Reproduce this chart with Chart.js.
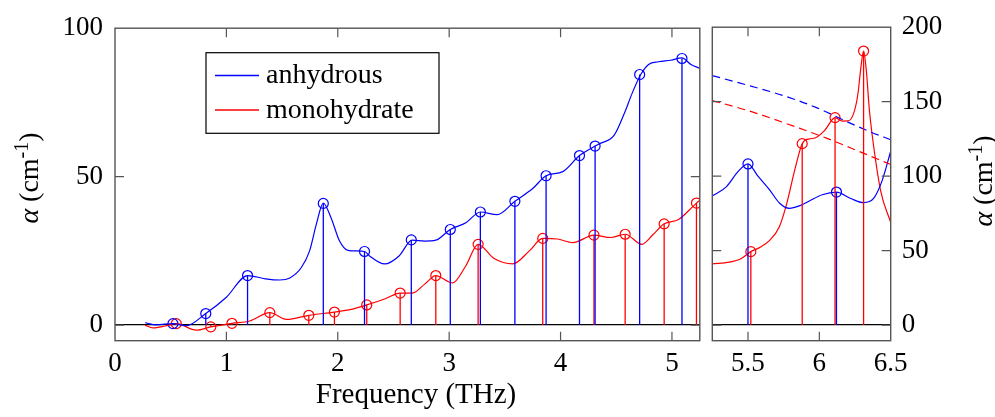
<!DOCTYPE html>
<html><head><meta charset="utf-8">
<script src="https://cdn.jsdelivr.net/npm/chart.js@4.4.1/dist/chart.umd.min.js"></script>
<style>
html,body{margin:0;padding:0;background:#fff;}
#wrap{position:relative;width:995px;height:417px;overflow:hidden;}
canvas{position:absolute;top:0;}
</style></head><body>
<div id="wrap">
<canvas id="leftChart" width="706" height="417" style="left:0px"></canvas>
<canvas id="rightChart" width="289" height="417" style="left:706px"></canvas>
</div>
<script>
const FONT = '"Liberation Serif", "Times New Roman", serif';
const seriesNames = ['anhydrous', 'monohydrate'];
const xTitle = 'Frequency (THz)';

// tick labels
const leftXTicks = [0, 1, 2, 3, 4, 5];
const leftYTicks = [0, 50, 100];
const rightXTicks = [5.5, 6, 6.5];
const rightYTicks = [0, 50, 100, 150, 200];

// anhydrous spectrum, left panel (THz, cm^-1)
const anhCurveX = [0.27,0.37,0.52,0.64,0.815,1.0,1.19,1.35,1.48,1.57,1.673,1.747,1.807,1.87,1.94,2.016,2.09,2.24,2.285,2.42,2.55,2.667,2.78,2.88,3.01,3.15,3.28,3.43,3.59,3.75,3.87,4.02,4.17,4.31,4.35,4.48,4.57,4.645,4.72,4.79,4.88,4.99,5.09,5.17,5.25];
const anhCurveY = [0.8,0.1,0.5,-0.2,3.9,9.4,16.7,15.6,15.2,15.9,19.4,25.0,33.9,41.1,36.1,28.3,25.2,24.8,23.3,20.6,23.3,28.6,28.3,28.6,32.2,34.5,38.1,37.2,41.7,46.0,50.3,51.7,57.1,60.3,61.1,63.9,71.1,78.3,84.4,87.8,88.7,89.2,90.0,87.8,86.5];
// monohydrate spectrum, left panel
const monoCurveX = [0.27,0.34,0.45,0.55,0.73,0.86,1.05,1.21,1.39,1.54,1.74,1.97,2.12,2.26,2.42,2.56,2.67,2.78,2.88,3.03,3.15,3.26,3.40,3.57,3.72,3.84,3.97,4.11,4.30,4.45,4.58,4.73,4.83,4.93,5.06,5.22,5.25];
const monoCurveY = [0.0,-0.9,-0.3,0.5,-1.7,-0.6,0.6,1.4,4.2,1.9,3.3,4.4,5.3,6.8,8.8,10.8,10.8,13.8,16.7,14.2,20.0,27.2,22.5,20.6,25.0,29.2,29.0,27.8,30.3,29.5,30.6,27.2,30.5,34.1,35.6,41.1,42.0];

// anhydrous spectrum, right panel
const anhCurveRX = [5.25,5.35,5.43,5.5,5.57,5.65,5.72,5.79,5.86,5.93,6.02,6.12,6.22,6.31,6.38,6.44,6.5];
const anhCurveRY = [86.7,93,103,108.2,100,91,82,78.4,80,83.3,87.5,89.3,85,82.2,85,97,116.7];
// monohydrate spectrum, right panel
const monoCurveRX = [5.25,5.37,5.45,5.52,5.58,5.65,5.72,5.77,5.83,5.88,5.93,5.97,6.04,6.11,6.16,6.20,6.24,6.27,6.29,6.31,6.33,6.35,6.37,6.43,6.5];
const monoCurveRY = [41.1,42.2,44.5,49.3,52,56.7,66,81,105,121.8,125,125.6,131,139.3,137,137.1,142,155,172,184,170,145,127.8,90,68.9];

// calculated modes (stems + circles)
const anhPeakX = [0.52,0.815,1.19,1.87,2.24,2.66,3.01,3.28,3.59,3.87,4.17,4.31,4.71,5.09];
const anhPeakY = [0.5,3.9,16.7,41.0,24.8,28.7,32.2,38.1,41.7,50.3,57.1,60.3,84.4,89.8];
const monoPeakX = [0.55,0.86,1.05,1.39,1.74,1.97,2.26,2.56,2.88,3.26,3.84,4.30,4.58,4.93,5.22];
const monoPeakY = [0.5,-0.6,0.6,4.2,3.3,4.4,6.8,10.8,16.7,27.2,29.2,30.3,30.6,34.1,41.1];
const anhPeakRX = [5.5,6.12];
const anhPeakRY = [108.2,89.3];
const monoPeakRX = [5.52,5.88,6.11,6.31];
const monoPeakRY = [49.3,121.8,139.3,184];

// dashed baselines, right panel
const anhDashX = [5.25,5.5,5.75,5.98,6.19,6.35,6.5];
const anhDashY = [167.5,161,154,146,136.7,130,124.4];
const monoDashX = [5.25,5.5,5.86,6.05,6.22,6.5];
const monoDashY = [150.7,144,132.2,125.5,118.9,107.8];

const BLUE = '#0000ff', RED = '#ff0000';

function pts(xs, ys){ return xs.map((x,i)=>({x:x, y:ys[i]})); }
function stems(xs, ys){ const d=[]; xs.forEach((x,i)=>{ d.push({x:x,y:0},{x:x,y:ys[i]},{x:x,y:null}); }); return d; }

function curve(label, xs, ys, color, dash){
  return {label, data: pts(xs,ys), showLine:true, borderColor:color, borderWidth:1.2, pointRadius:0, pointHoverRadius:0,
          cubicInterpolationMode:'monotone', borderDash: dash||[], fill:false};
}
function stemSet(label, xs, ys, color){
  return {label, data: stems(xs,ys), showLine:true, spanGaps:false, borderColor:color, borderWidth:1.3, pointRadius:0, pointHoverRadius:0, tension:0};
}
function markers(label, xs, ys, color){
  return {label, data: pts(xs,ys), showLine:false, pointRadius:5, pointHoverRadius:5, pointStyle:'circle',
          pointBorderColor:color, pointBackgroundColor:'rgba(0,0,0,0)', pointBorderWidth:1.2, borderColor:color};
}

function drawAlphaTitle(ctx, cx, cy, size){
  ctx.save();
  ctx.translate(cx, cy); ctx.rotate(-Math.PI/2);
  const parts = [
    {t:'α', f:`italic ${size}px ${FONT}`, dy:0},
    {t:' (cm', f:`${size}px ${FONT}`, dy:0},
    {t:'-1', f:`${Math.round(size*0.7)}px ${FONT}`, dy:-size*0.36},
    {t:')', f:`${size}px ${FONT}`, dy:0}
  ];
  let w = 0;
  parts.forEach(p=>{ ctx.font=p.f; p.w=ctx.measureText(p.t).width; w+=p.w; });
  let xx = -w/2;
  ctx.fillStyle = '#000'; ctx.textBaseline = 'alphabetic'; ctx.textAlign = 'left';
  const base = size*0.3;
  parts.forEach(p=>{ ctx.font=p.f; ctx.fillText(p.t, xx, base+p.dy); xx+=p.w; });
  ctx.restore();
}

function framePlugin(extra){
  return {
    id:'frame',
    afterDraw(chart){
      const ctx = chart.ctx, a = chart.chartArea, x = chart.scales.x, y = chart.scales.y;
      ctx.save();
      ctx.strokeStyle = '#555'; ctx.lineWidth = 1.4;
      ctx.strokeRect(a.left, a.top, a.right-a.left, a.bottom-a.top);
      ctx.lineWidth = 1.2;
      ctx.beginPath();
      x.ticks.forEach(t=>{
        const px = x.getPixelForValue(t.value);
        if (px <= a.left+1 || px >= a.right-1) return;
        ctx.moveTo(px, a.bottom); ctx.lineTo(px, a.bottom-9);
        ctx.moveTo(px, a.top); ctx.lineTo(px, a.top+9);
      });
      y.ticks.forEach(t=>{
        const py = y.getPixelForValue(t.value);
        if (py <= a.top+1 || py >= a.bottom-1) return;
        ctx.moveTo(a.left, py); ctx.lineTo(a.left+9, py);
        ctx.moveTo(a.right, py); ctx.lineTo(a.right-9, py);
      });
      ctx.stroke();
      ctx.restore();
      if (extra) extra(chart);
    }
  };
}

function zeroGrid(ctx){ return ctx.tick && ctx.tick.value === 0 ? '#000' : 'rgba(0,0,0,0)'; }

const tickFont = {family: FONT, size: 27};

// LEFT CHART
new Chart(document.getElementById('leftChart'), {
  type:'scatter',
  data:{ datasets:[
    stemSet(seriesNames[0]+' modes', anhPeakX, anhPeakY, BLUE),
    stemSet(seriesNames[1]+' modes', monoPeakX, monoPeakY, RED),
    curve(seriesNames[0], anhCurveX, anhCurveY, BLUE),
    curve(seriesNames[1], monoCurveX, monoCurveY, RED),
    markers(seriesNames[0]+' peaks', anhPeakX, anhPeakY, BLUE),
    markers(seriesNames[1]+' peaks', monoPeakX, monoPeakY, RED)
  ]},
  options:{
    responsive:false, animation:false, devicePixelRatio:1,
    layout:{ padding:{left:0, top:25, right:5.3, bottom:0} },
    plugins:{ legend:{display:false}, tooltip:{enabled:false} },
    scales:{
      x:{ type:'linear', min:0, max:5.25,
          afterBuildTicks(s){ s.ticks = leftXTicks.map(v=>({value:v})); },
          afterFit(s){ s.height = 417 - 340.7; },
          grid:{display:false, drawTicks:false}, border:{display:false},
          ticks:{ font:tickFont, color:'#000', padding:7, maxRotation:0, autoSkip:false, callback:v=>String(v) } },
      y:{ type:'linear', min:-5.25, max:100,
          afterBuildTicks(s){ s.ticks = leftYTicks.map(v=>({value:v})); },
          afterFit(s){ s.width = 115; },
          grid:{ drawTicks:false, color:zeroGrid, lineWidth:1.3 }, border:{display:false},
          ticks:{ font:tickFont, color:'#000', padding:12, callback:v=>String(v) } }
    }
  },
  plugins:[ framePlugin(function(chart){
    const ctx = chart.ctx;
    ctx.save();
    // legend
    ctx.fillStyle='#fff'; ctx.fillRect(206, 52.7, 233, 80.6);
    ctx.strokeStyle='#000'; ctx.lineWidth=1.2; ctx.strokeRect(206, 52.7, 233, 80.6);
    const rows = [{name:seriesNames[0], c:BLUE, ly:75.5, ty:83}, {name:seriesNames[1], c:RED, ly:110, ty:118}];
    rows.forEach(r=>{
      ctx.strokeStyle=r.c; ctx.lineWidth=1.4; ctx.beginPath(); ctx.moveTo(215, r.ly); ctx.lineTo(259, r.ly); ctx.stroke();
      ctx.fillStyle='#000'; ctx.font=`28px ${FONT}`; ctx.textAlign='left'; ctx.textBaseline='alphabetic';
      ctx.fillText(r.name, 266, r.ty);
    });
    // x title
    ctx.font = `29px ${FONT}`; ctx.textAlign='center'; ctx.textBaseline='alphabetic'; ctx.fillStyle='#000';
    ctx.fillText(xTitle, 416, 403);
    ctx.restore();
    drawAlphaTitle(ctx, 30, 178, 28);
  }) ]
});

// RIGHT CHART
new Chart(document.getElementById('rightChart'), {
  type:'scatter',
  data:{ datasets:[
    stemSet(seriesNames[0]+' modes', anhPeakRX, anhPeakRY, BLUE),
    stemSet(seriesNames[1]+' modes', monoPeakRX, monoPeakRY, RED),
    curve(seriesNames[0]+' baseline', anhDashX, anhDashY, BLUE, [8,5]),
    curve(seriesNames[1]+' baseline', monoDashX, monoDashY, RED, [8,5]),
    curve(seriesNames[0], anhCurveRX, anhCurveRY, BLUE),
    curve(seriesNames[1], monoCurveRX, monoCurveRY, RED),
    markers(seriesNames[0]+' peaks', anhPeakRX, anhPeakRY, BLUE),
    markers(seriesNames[1]+' peaks', monoPeakRX, monoPeakRY, RED)
  ]},
  options:{
    responsive:false, animation:false, devicePixelRatio:1,
    layout:{ padding:{left:6.3, top:25, right:0, bottom:0} },
    plugins:{ legend:{display:false}, tooltip:{enabled:false} },
    scales:{
      x:{ type:'linear', min:5.25, max:6.5,
          afterBuildTicks(s){ s.ticks = rightXTicks.map(v=>({value:v})); },
          afterFit(s){ s.height = 417 - 340.7; },
          grid:{display:false, drawTicks:false}, border:{display:false},
          ticks:{ font:tickFont, color:'#000', padding:7, maxRotation:0, autoSkip:false, callback:v=>String(v) } },
      y:{ type:'linear', position:'right', min:-10.5, max:200,
          afterBuildTicks(s){ s.ticks = rightYTicks.map(v=>({value:v})); },
          afterFit(s){ s.width = 289 - 184.7; },
          grid:{ drawTicks:false, color:zeroGrid, lineWidth:1.3 }, border:{display:false},
          ticks:{ font:tickFont, color:'#000', padding:11, callback:v=>String(v) } }
    }
  },
  plugins:[ framePlugin(function(chart){
    drawAlphaTitle(chart.ctx, 278, 181, 28);
  }) ]
});
</script>
</body></html>
